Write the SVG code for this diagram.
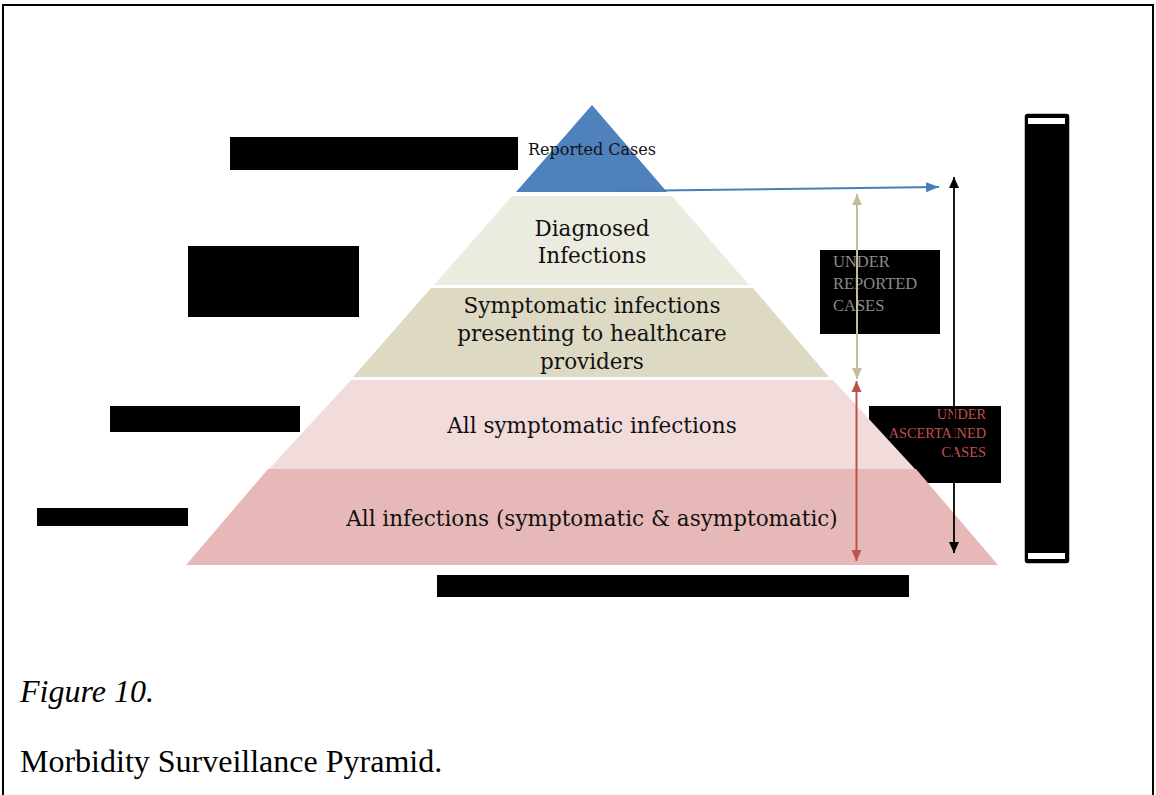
<svg xmlns="http://www.w3.org/2000/svg" width="1156" height="795" viewBox="0 0 1156 795">
<style>
.tier{font-family:"DejaVu Serif","Liberation Serif",serif;font-size:21.5px;fill:#111;text-anchor:middle}
.redact{fill:#000}
.cap{font-family:"Liberation Serif","Times New Roman",serif;fill:#000}
.lbl{font-family:"Liberation Serif","Times New Roman",serif}
</style>
<defs>
<marker id="mTan" markerUnits="userSpaceOnUse" markerWidth="12" markerHeight="12" refX="11" refY="6" orient="auto-start-reverse"><path d="M0,1 L11,6 L0,11 z" fill="#C4BD97"/></marker>
<marker id="mRed" markerUnits="userSpaceOnUse" markerWidth="12" markerHeight="12" refX="11" refY="6" orient="auto-start-reverse"><path d="M0,1 L11,6 L0,11 z" fill="#C0504D"/></marker>
<marker id="mBlack" markerUnits="userSpaceOnUse" markerWidth="12" markerHeight="12" refX="11" refY="6" orient="auto-start-reverse"><path d="M0,1 L11,6 L0,11 z" fill="#000"/></marker>
<marker id="mBlue" markerUnits="userSpaceOnUse" markerWidth="14" markerHeight="12" refX="13" refY="6" orient="auto"><path d="M0,1 L13,6 L0,11 z" fill="#4A7EBB"/></marker>
</defs>
<rect width="1156" height="795" fill="#fff"/>
<path d="M3,795 V5 H1153 V795" fill="none" stroke="#000" stroke-width="2"/>

<g id="redactions">
<rect class="redact" x="230" y="137" width="288" height="33"/>
<rect class="redact" x="188" y="246" width="171" height="71"/>
<rect class="redact" x="110" y="406" width="190" height="26"/>
<rect class="redact" x="37" y="508" width="151" height="18"/>
<rect class="redact" x="437" y="575" width="472" height="22"/>
</g>

<g id="under-reported-box">
<rect x="820" y="250" width="120" height="84" fill="#000"/>
<text class="lbl" font-size="16.5" fill="#8a8a8a"><tspan x="833" y="267">UNDER</tspan><tspan x="833" y="289">REPORTED</tspan><tspan x="833" y="311">CASES</tspan></text>
</g>

<g id="under-ascertained-box">
<rect x="869" y="406" width="132" height="77" fill="#000"/>
<text class="lbl" font-size="14.3" fill="#C0504D" text-anchor="end"><tspan x="986" y="419">UNDER</tspan><tspan x="986" y="438">ASCERTAINED</tspan><tspan x="986" y="457">CASES</tspan></text>
</g>

<g id="tier-all-infections">
<polygon points="268,469 916,469 998,565 186,565" fill="#E6B9B8"/>
</g>
<g id="tier-all-symptomatic">
<polygon points="351,380 833,380 915,469 269,469" fill="#F2DCDB"/>
<text class="tier" x="592" y="433">All symptomatic infections</text>
</g>
<g id="tier-all-infections-label">
<text class="tier" x="592" y="526">All infections (symptomatic &amp; asymptomatic)</text>
</g>
<g id="tier-symptomatic-presenting">
<polygon points="431,288 753,288 829,377 353,377" fill="#DDD9C3"/>
<text class="tier"><tspan x="592" y="313">Symptomatic infections</tspan><tspan x="592" y="341">presenting to healthcare</tspan><tspan x="592" y="369">providers</tspan></text>
</g>
<g id="tier-diagnosed">
<polygon points="512,196 672,196 749,285 434,285" fill="#ECEBE0"/>
<text class="tier"><tspan x="592" y="236">Diagnosed</tspan><tspan x="592" y="263">Infections</tspan></text>
</g>
<g id="tier-reported">
<polygon points="592,105 667,192 516,192" fill="#4F81BD"/>
<text x="592" y="155" font-family="DejaVu Serif, Liberation Serif, serif" font-size="16" fill="#111" text-anchor="middle">Reported Cases</text>
</g>

<g id="connectors">
<line x1="617" y1="191" x2="939" y2="187" stroke="#4A7EBB" stroke-width="2" marker-end="url(#mBlue)"/>
<line x1="857" y1="194" x2="857" y2="379" stroke="#C4BD97" stroke-width="2" marker-start="url(#mTan)" marker-end="url(#mTan)"/>
<line x1="856.5" y1="381" x2="856.5" y2="561" stroke="#C0504D" stroke-width="2" marker-start="url(#mRed)" marker-end="url(#mRed)"/>
<line x1="954" y1="177" x2="954" y2="553" stroke="#000" stroke-width="1.8" marker-start="url(#mBlack)" marker-end="url(#mBlack)"/>
</g>

<g id="side-bar">
<rect x="1025.5" y="114.5" width="43" height="448" rx="2" fill="#000" stroke="#000" stroke-width="1.5"/>
<rect x="1028" y="118" width="37" height="6" fill="#fff"/>
<rect x="1028" y="553" width="37" height="6" fill="#fff"/>
</g>

<g id="caption">
<text class="cap" x="20" y="702" font-size="32" font-style="italic">Figure 10.</text>
<text class="cap" x="20" y="772" font-size="32">Morbidity Surveillance Pyramid.</text>
</g>
</svg>
